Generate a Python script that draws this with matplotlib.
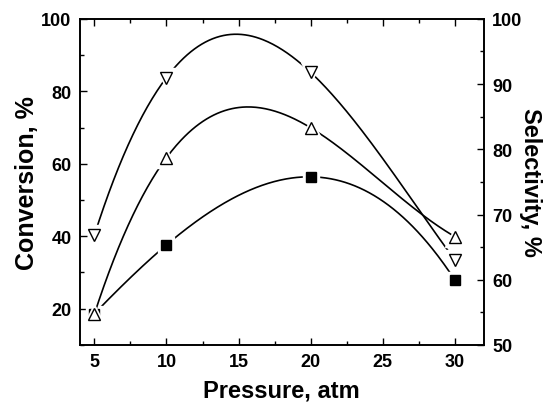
import matplotlib
matplotlib.use("Agg")
import matplotlib.pyplot as plt
import numpy as np
from matplotlib.ticker import MultipleLocator

plt.rcParams["font.family"] = ["Liberation Sans", "DejaVu Sans"]
plt.rcParams["font.weight"] = "bold"

pressure = [5, 10, 20, 30]
# conversion (left axis)
conversion = [18.6, 37.6, 56.4, 27.9]
# selectivities (right axis)
sel_up = [54.7, 78.7, 83.3, 66.6]
sel_down = [66.8, 91.0, 91.8, 63.0]

fig = plt.figure(figsize=(5.51, 4.06), dpi=100)
ax = fig.add_axes([0.145, 0.148, 0.733, 0.803])
ax2 = ax.twinx()

xs = np.linspace(5, 30, 300)


def draw(a, x, y, marker, ms, face):
    c = np.polyfit(x, y, 3)
    a.plot(xs, np.polyval(c, xs), color="black", lw=1.2, zorder=2)
    # white halo so the line stops short of the marker
    a.plot(x, y, ls="none", marker=marker, ms=ms + 5, mfc="white", mec="white", zorder=3)
    a.plot(x, y, ls="none", marker=marker, ms=ms, mfc=face, mec="black", mew=1.0, zorder=4)


draw(ax, pressure, conversion, "s", 7, "black")
draw(ax2, pressure, sel_up, "^", 9, "white")
draw(ax2, pressure, sel_down, "v", 9, "white")

ax.set_xlim(4, 32)
ax.set_ylim(10, 100)
ax2.set_ylim(50, 100)

ax.xaxis.set_major_locator(MultipleLocator(5))
ax.xaxis.set_minor_locator(MultipleLocator(2.5))
ax.yaxis.set_major_locator(MultipleLocator(20))
ax.yaxis.set_minor_locator(MultipleLocator(10))
ax2.yaxis.set_major_locator(MultipleLocator(10))
ax2.yaxis.set_minor_locator(MultipleLocator(5))

ax.tick_params(which="both", direction="in", top=True, labelsize=13, width=1.0)
ax.tick_params(which="major", length=5, pad=6)
ax.tick_params(which="minor", length=3)
ax2.tick_params(which="both", direction="in", labelsize=13, width=1.0)
ax2.tick_params(which="major", length=5, pad=6)
ax2.tick_params(which="minor", length=3)
ax.set_yticks([20, 40, 60, 80, 100])

for a in (ax, ax2):
    for s in a.spines.values():
        s.set_linewidth(1.2)

ax.set_xlabel("Pressure, atm", fontsize=17, fontweight="bold", labelpad=6)
ax.set_ylabel("Conversion, %", fontsize=18, fontweight="bold", labelpad=2)
ax2.set_ylabel("Selectivity, %", fontsize=17, fontweight="bold", rotation=270, labelpad=14)

fig.savefig("out.png", dpi=100)
